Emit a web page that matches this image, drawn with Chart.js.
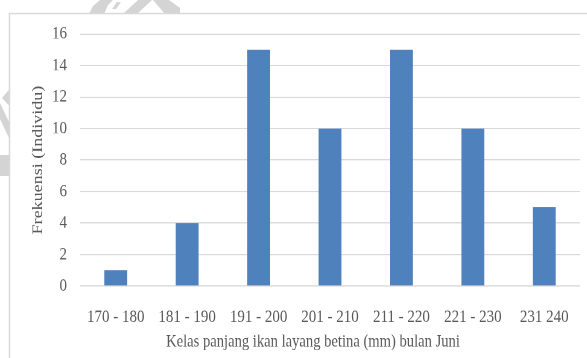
<!DOCTYPE html>
<html>
<head>
<meta charset="utf-8">
<script src="https://cdn.jsdelivr.net/npm/chart.js@4.4.0/dist/chart.umd.min.js"></script>
<style>
  html { overflow: hidden; }
  html, body { margin: 0; padding: 0; background: #fff; height: 358px; }
  /* the chart is drawn at 298px tall and stretched to 358px */
  #wrap { width: 587px; height: 298px; transform: scaleY(1.2013); transform-origin: 0 0; }
</style>
</head>
<body>
<div id="wrap"><canvas id="chart" width="587" height="298"></canvas></div>
<script>
// length classes (mm) and number of female fish per class
const categories = ['170 - 180', '181 - 190', '191 - 200', '201 - 210', '211 - 220', '221 - 230', '231 240'];
const frequencies = [1, 4, 15, 10, 15, 10, 5];
const yTicks = [0, 2, 4, 6, 8, 10, 12, 14, 16];

const xTitle = 'Kelas panjang ikan layang betina (mm) bulan Juni';
const yTitle = 'Frekuensi (Individu)';

const STRETCH = 358 / 298;
const FONT = '"Liberation Serif", "Times New Roman", serif';
const TEXT = '#595959';

// faint logo pieces peeking out around the frame (page pixels)
const watermark = [
  [[89, 14], [104, 14], [108, 5], [113, 0], [100, 0], [93, 6]],
  [[112, 9], [116, 9], [121, 2], [117, 2]],
  [[123, 14], [137, 14], [152, 0], [138, 0]],
  [[153, 0], [169, 0], [180, 8], [180, 14], [165, 14]],
  [[9.5, 89], [2, 98], [9.5, 106]],
  [[0, 103], [0, 119], [9.5, 139], [9.5, 123]],
  [[0, 155], [9.5, 155], [9.5, 176], [0, 176]]
];

const frame = {
  id: 'frame',
  beforeDraw(chart) {
    const ctx = chart.ctx;
    ctx.save();
    ctx.fillStyle = '#fff';
    ctx.fillRect(0, 0, chart.width, chart.height);
    ctx.scale(1, 1 / STRETCH);
    ctx.fillStyle = '#d4d4d4';
    watermark.forEach(poly => {
      ctx.beginPath();
      poly.forEach(([x, y], i) => i ? ctx.lineTo(x, y) : ctx.moveTo(x, y));
      ctx.closePath();
      ctx.fill();
    });
    // white chart box with light border on top and left
    ctx.fillStyle = '#fff';
    ctx.fillRect(9.5, 13.5, 600, 400);
    ctx.strokeStyle = '#d9d9d9';
    ctx.lineWidth = 1.5;
    ctx.beginPath();
    ctx.moveTo(9.5, 400);
    ctx.lineTo(9.5, 13.5);
    ctx.lineTo(600, 13.5);
    ctx.stroke();
    ctx.restore();
  },
  // x title is centred on the whole box, not on the plot area
  afterDraw(chart) {
    const ctx = chart.ctx;
    const x = chart.scales.x;
    ctx.save();
    ctx.font = '14.6px ' + FONT;
    ctx.fillStyle = TEXT;
    ctx.textAlign = 'center';
    ctx.textBaseline = 'middle';
    ctx.fillText(xTitle, 313, x.bottom - 13.3);
    ctx.restore();
  }
};

new Chart(document.getElementById('chart'), {
  type: 'bar',
  data: {
    labels: categories,
    datasets: [{
      data: frequencies,
      backgroundColor: '#4f81bd',
      borderWidth: 0,
      barPercentage: 0.32,
      categoryPercentage: 1
    }]
  },
  options: {
    responsive: false,
    animation: false,
    devicePixelRatio: 2,
    layout: { padding: { left: 25, right: 7, top: 28.3, bottom: 0 } },
    plugins: { legend: { display: false }, tooltip: { enabled: false } },
    scales: {
      x: {
        grid: { display: false },
        border: { display: false },
        ticks: { color: TEXT, font: { family: FONT, size: 15 }, padding: 9, maxRotation: 0, autoSkip: false },
        afterFit(scale) { scale.height = 298 - 238.1; }
      },
      y: {
        min: 0,
        max: 16,
        afterBuildTicks(scale) { scale.ticks = yTicks.map(v => ({ value: v })); },
        grid: { color: '#d9d9d9', drawTicks: false },
        border: { display: false },
        ticks: { color: TEXT, font: { family: FONT, size: 15 }, padding: 13 },
        title: {
          display: true, text: yTitle, color: TEXT,
          font: { family: FONT, size: 15 }, padding: { top: 4, bottom: 0 }
        },
        afterFit(scale) { scale.width = 55; }
      }
    }
  },
  plugins: [frame]
});
</script>
</body>
</html>
